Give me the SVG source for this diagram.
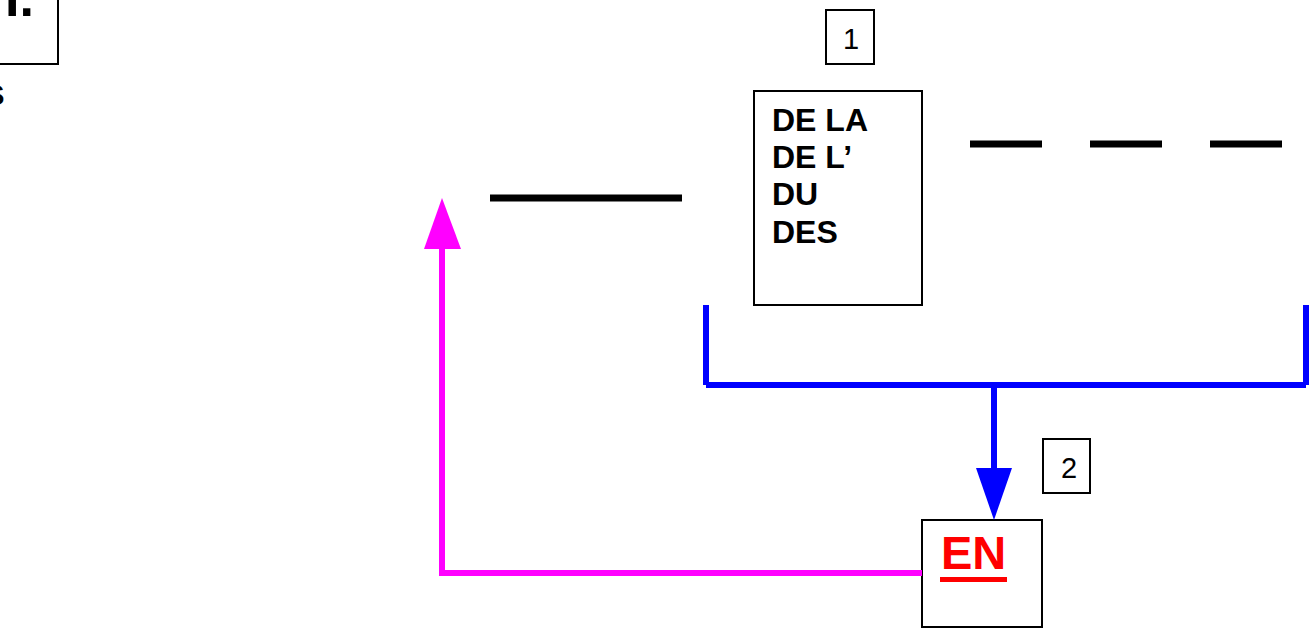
<svg xmlns="http://www.w3.org/2000/svg" width="1313" height="630" viewBox="0 0 1313 630">
<style>
.box{fill:#fff;stroke:#000;stroke-width:2}
.bt{font-family:"Liberation Sans",Arial,sans-serif;font-weight:bold;fill:#000}
.nt{font-family:"Liberation Sans",Arial,sans-serif;fill:#000}
.bar{stroke:#000;stroke-width:7;fill:none}
.blue{stroke:#0000ff;stroke-width:6;fill:none}
.mag{stroke:#ff00ff;stroke-width:6;fill:none}
</style>
<rect width="1313" height="630" fill="#fff"/>
<g id="corner">
<rect class="box" x="-20" y="-20" width="78" height="84"/>
<text class="bt" x="5" y="16" font-size="52">I.</text>
<text class="bt" x="4.5" y="105" font-size="30" text-anchor="end">S</text>
</g>
<g id="label1">
<rect class="box" x="826" y="10" width="48" height="54"/>
<text class="nt" x="851" y="49" font-size="29" text-anchor="middle">1</text>
</g>
<g id="main">
<rect class="box" x="754" y="91" width="168" height="214"/>
<text class="bt" x="772" y="131" font-size="32">DE LA</text>
<text class="bt" x="772" y="168" font-size="32">DE L’</text>
<text class="bt" x="772" y="205" font-size="32">DU</text>
<text class="bt" x="772" y="243" font-size="32">DES</text>
</g>
<g id="label2">
<rect class="box" x="1043" y="439" width="47" height="54"/>
<text class="nt" x="1069" y="478" font-size="29" text-anchor="middle">2</text>
</g>
<g id="en">
<rect class="box" x="922" y="520" width="120" height="107"/>
<text x="941" y="569" font-size="47" font-family="'Liberation Sans',Arial,sans-serif" font-weight="bold" fill="#ff0000">EN</text>
<rect x="940" y="577" width="67" height="5" fill="#ff0000"/>
</g>
<g id="lines">
<line class="bar" x1="490" y1="198" x2="682" y2="198"/>
<line class="bar" x1="970" y1="144" x2="1042" y2="144"/>
<line class="bar" x1="1090" y1="144" x2="1162" y2="144"/>
<line class="bar" x1="1210" y1="144" x2="1282" y2="144"/>
</g>
<g id="connectors">
<path class="blue" d="M706 305 V385 M706 385 H1306 M1306 305 V385"/>
<line class="blue" x1="994" y1="385" x2="994" y2="470"/>
<polygon points="976,468 1012,468 994,520" fill="#0000ff"/>
<path class="mag" d="M922 573 H442 V246"/>
<polygon points="424,249 461,249 442,198" fill="#ff00ff"/>
</g>
</svg>
